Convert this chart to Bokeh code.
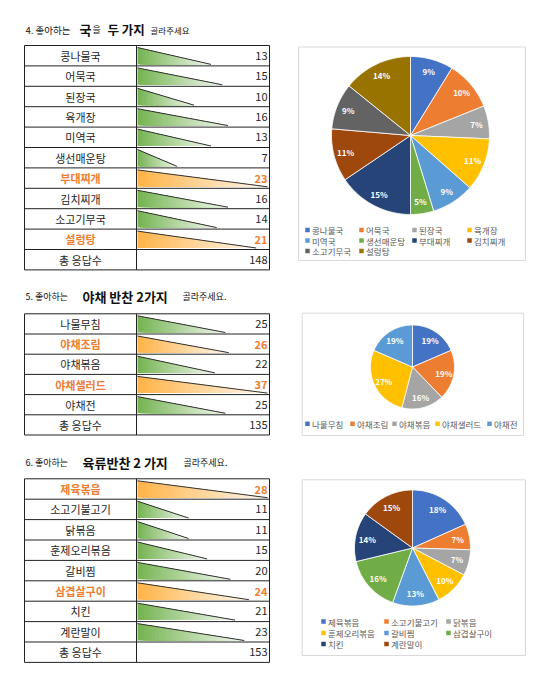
import numpy as np
from bokeh.plotting import figure
from bokeh.models import Range1d
from bokeh.core.properties import value
from bokeh.embed import file_html
from bokeh.resources import INLINE

FONT = value("Noto Sans CJK KR")

# ---------------- data ----------------
soup_labels = ["콩나물국", "어묵국", "된장국", "육개장", "미역국", "생선매운탕", "부대찌개", "김치찌개", "소고기무국", "설렁탕"]
soup_values = [13, 15, 10, 16, 13, 7, 23, 16, 14, 21]
soup_total = 148
soup_pct = ["9%", "10%", "7%", "11%", "9%", "5%", "15%", "11%", "9%", "14%"]
soup_hl = ["부대찌개", "설렁탕"]

veg_labels = ["나물무침", "야채조림", "야채볶음", "야채샐러드", "야채전"]
veg_values = [25, 26, 22, 37, 25]
veg_total = 135
veg_pct = ["19%", "19%", "16%", "27%", "19%"]
veg_hl = ["야채조림", "야채샐러드"]

meat_labels = ["제육볶음", "소고기불고기", "닭볶음", "훈제오리볶음", "갈비찜", "삼겹살구이", "치킨", "계란말이"]
meat_values = [28, 11, 11, 15, 20, 24, 21, 23]
meat_total = 153
meat_pct = ["18%", "7%", "7%", "10%", "13%", "16%", "14%", "15%"]
meat_hl = ["제육볶음", "삼겹살구이"]

total_label = "총 응답수"

title1 = [("4. 좋아하는", False, "9.5px"), ("국", True, "13px"), ("을", False, "9px"), ("두 가지", True, "12.5px"), ("골라주세요", False, "8.5px")]
title2 = [("5. 좋아하는", False, "9px"), ("야채 반찬 2가지", True, "13px"), ("골라주세요.", False, "9px")]
title3 = [("6. 좋아하는", False, "9px"), ("육류반찬  2 가지", True, "13px"), ("골라주세요.", False, "9px")]

pie_colors = ["#4472C4", "#ED7D31", "#A5A5A5", "#FFC000", "#5B9BD5",
              "#70AD47", "#264478", "#9E480E", "#636363", "#997300"]

# ---------------- layout constants ----------------
W, H = 526, 677
TX0, TX1, TX2 = 24, 136, 269
BX0, BARW = 137, 130
GREEN = "#74B350"
ORANGE = "#FFB347"
HL_TEXT = "#ED7D31"
N_STRIP = 30

p = figure(width=W, height=H, x_range=Range1d(0, W), y_range=Range1d(H, 0),
           output_backend="svg", toolbar_location=None, min_border=0,
           x_axis_location=None, y_axis_location=None)
p.grid.visible = False
p.outline_line_color = None
p.background_fill_color = "white"
p.border_fill_color = "white"


def hex2rgb(h):
    h = h.lstrip("#")
    return [int(h[i:i + 2], 16) for i in (0, 2, 4)]


def mix(c1, c2, t):
    a, b = hex2rgb(c1), hex2rgb(c2)
    return "#%02x%02x%02x" % tuple(int(round(a[i] + (b[i] - a[i]) * t)) for i in range(3))


def draw_title(segs, xs, y):
    for (txt, bold, size), x in zip(segs, xs):
        p.text(x=[x], y=[y], text=[txt], text_font=FONT, text_font_size=size,
               text_font_style="bold" if bold else "normal", text_color="#111111",
               text_align="left", text_baseline="middle")


def draw_table(labels, vals, total, hl, top, rh):
    n = len(labels) + 1
    ys = [top + i * rh for i in range(n + 1)]
    vmax = max(vals)
    sx, sy, cols = [], [], []
    hx0, hx1, hy0, hy1 = [], [], [], []
    for i, (lab, v) in enumerate(zip(labels, vals)):
        yt, yb = ys[i] + 2, ys[i + 1] - 1.5
        L = v / vmax * BARW
        tip = BX0 + L
        base = ORANGE if lab in hl else GREEN
        for j in range(N_STRIP):
            xa = BX0 + L * j / N_STRIP
            ya = yt + (xa - BX0) / L * (yb - yt)
            sx.append([xa, tip, xa])
            sy.append([ya, yb, yb])
            cols.append(mix(base, "#ffffff", (j + 0.5) / N_STRIP * 0.92))
        hx0.append(BX0); hx1.append(tip); hy0.append(yt); hy1.append(yb)
    p.patches(sx, sy, fill_color=cols, line_color=None)
    p.segment(x0=hx0, x1=hx1, y0=hy0, y1=hy1, line_color="#333333", line_width=1)
    # grid lines
    p.segment(x0=[TX0] * len(ys), x1=[TX2] * len(ys), y0=ys, y1=ys, line_color="#222222", line_width=1)
    p.segment(x0=[TX0, TX1, TX2], x1=[TX0, TX1, TX2], y0=[top] * 3, y1=[ys[-1]] * 3,
              line_color="#222222", line_width=1)
    # texts
    cy = [(ys[i] + ys[i + 1]) / 2 for i in range(n)]
    all_labels = labels + [total_label]
    all_vals = [str(v) for v in vals] + [str(total)]
    is_hl = [l in hl for l in labels] + [False]
    for flag in (False, True):
        idx = [k for k in range(n) if is_hl[k] == flag]
        if not idx:
            continue
        color = HL_TEXT if flag else "#262626"
        style = "bold" if flag else "normal"
        p.text(x=[(TX0 + TX1) / 2] * len(idx), y=[cy[k] for k in idx], text=[all_labels[k] for k in idx],
               text_font=FONT, text_font_size="11px", text_font_style=style, text_color=color,
               text_align="center", text_baseline="middle")
        p.text(x=[TX2 - 2] * len(idx), y=[cy[k] for k in idx], text=[all_vals[k] for k in idx],
               text_font=FONT, text_font_size="11px", text_font_style=style, text_color=color,
               text_align="right", text_baseline="middle")


def draw_pie(vals, pcts, cx, cy, r, lr):
    tot = float(sum(vals))
    cum = np.cumsum([0] + list(vals)) / tot * 2 * np.pi
    xs, ys = [], []
    for k in range(len(vals)):
        a0, a1 = cum[k], cum[k + 1]
        m = max(3, int(np.ceil((a1 - a0) / (2 * np.pi) * 160)))
        th = np.linspace(a0, a1, m + 1)
        xs.append([cx] + list(cx + r * np.sin(th)))
        ys.append([cy] + list(cy - r * np.cos(th)))
    p.patches(xs, ys, fill_color=pie_colors[:len(vals)], line_color="white", line_width=0.8)
    mid = (cum[:-1] + cum[1:]) / 2
    p.text(x=list(cx + lr * np.sin(mid)), y=list(cy - lr * np.cos(mid)), text=pcts,
           text_font=FONT, text_font_size="8px", text_font_style="bold", text_color="white",
           text_align="center", text_baseline="middle")


def draw_legend(labels, colx, rowy, ncol):
    mx = [colx[i % ncol] for i in range(len(labels))]
    my = [rowy[i // ncol] for i in range(len(labels))]
    p.rect(x=mx, y=my, width=4.5, height=4.5, fill_color=pie_colors[:len(labels)], line_color=None)
    p.text(x=[x + 4.5 for x in mx], y=my, text=labels, text_font=FONT, text_font_size="8.5px",
           text_color="#595959", text_align="left", text_baseline="middle")


def draw_box(x0, x1, y0, y1):
    p.quad(left=[x0], right=[x1], top=[y0], bottom=[y1], fill_color="white", line_color="#D9D9D9", line_width=1)


# ---------------- section 1 ----------------
draw_title(title1, [25, 79, 92, 107, 150], 29)
draw_table(soup_labels, soup_values, soup_total, soup_hl, 45, 20.4)
draw_box(298, 525, 46.5, 260)
draw_pie(soup_values, soup_pct, 410, 135, 79, 67)
draw_legend(soup_labels, [307, 361, 414, 469], [229.5, 240, 250.5], 4)

# ---------------- section 2 ----------------
draw_title(title2, [25, 82, 182], 296)
draw_table(veg_labels, veg_values, veg_total, veg_hl, 313.3, 20.2)
draw_box(301.7, 523, 312.7, 435)
draw_pie(veg_values, veg_pct, 412, 366.5, 42, 32)
draw_legend(veg_labels, [307, 352, 394, 437, 489], [423.3], 5)

# ---------------- section 3 ----------------
draw_title(title3, [25, 82, 183], 462)
draw_table(meat_labels, meat_values, meat_total, meat_hl, 478.3, 20.4)
draw_box(301.7, 525, 479.3, 655)
draw_pie(meat_values, meat_pct, 412, 547.5, 58, 46)
draw_legend(meat_labels, [323, 386, 448], [621, 632.5, 643.5], 3)

open("out.html", "w").write(file_html(p, INLINE))
